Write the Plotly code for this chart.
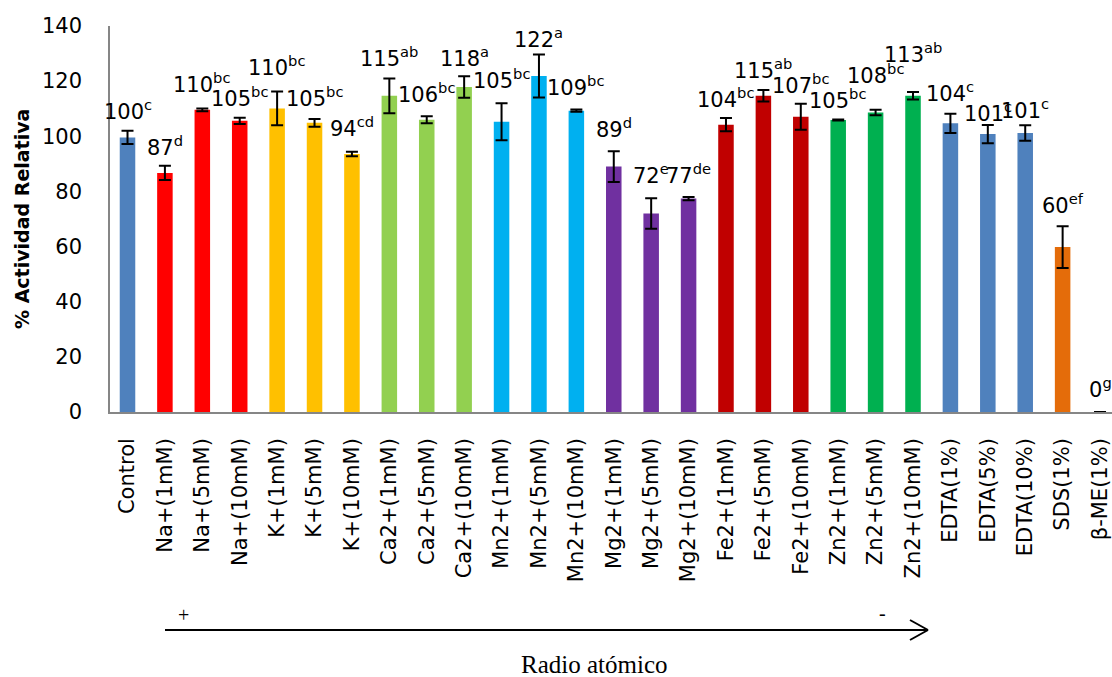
import plotly.graph_objects as go

categories = ["Control", "Na+(1mM)", "Na+(5mM)", "Na+(10mM)", "K+(1mM)", "K+(5mM)", "K+(10mM)",
              "Ca2+(1mM)", "Ca2+(5mM)", "Ca2+(10mM)", "Mn2+(1mM)", "Mn2+(5mM)", "Mn2+(10mM)",
              "Mg2+(1mM)", "Mg2+(5mM)", "Mg2+(10mM)", "Fe2+(1mM)", "Fe2+(5mM)", "Fe2+(10mM)",
              "Zn2+(1mM)", "Zn2+(5mM)", "Zn2+(10mM)", "EDTA(1%)", "EDTA(5%)", "EDTA(10%)",
              "SDS(1%)", "β-ME(1%)"]
values = [99.6, 86.7, 109.6, 105.6, 110.1, 104.9, 93.6,
          114.7, 106.0, 117.9, 105.3, 121.9, 109.3,
          89.0, 72.0, 77.4, 104.2, 114.7, 107.1,
          105.9, 108.6, 114.7, 104.7, 100.8, 101.2,
          59.8, 0.0]
errors = [2.4, 2.6, 0.5, 1.1, 6.1, 1.4, 0.8,
          6.3, 1.3, 3.9, 6.7, 7.8, 0.4,
          5.6, 5.5, 0.6, 2.4, 2.1, 4.7,
          0.2, 1.0, 1.4, 3.5, 3.3, 2.8,
          7.6, None]
label_values = ["100", "87", "110", "105", "110", "105", "94",
                "115", "106", "118", "105", "122", "109",
                "89", "72", "77", "104", "115", "107",
                "105", "108", "113", "104", "101", "101",
                "60", "0"]
label_letters = ["c", "d", "bc", "bc", "bc", "bc", "cd",
                 "ab", "bc", "a", "bc", "a", "bc",
                 "d", "e", "de", "bc", "ab", "bc",
                 "bc", "bc", "ab", "c", "c", "c",
                 "ef", "g"]
group_colors = {"Control": "#4F81BD", "Na": "#FF0000", "K": "#FFC000", "Ca": "#92D050",
                "Mn": "#00B0F0", "Mg": "#7030A0", "Fe": "#C00000", "Zn": "#00B050",
                "EDTA": "#4F81BD", "SDS": "#E46C0A", "β-ME": "#A6A6A6"}

# label vertical placement (data units) as positioned in the original chart
label_pos = [109.6, 96.6, 119.4, 114.3, 125.5, 114.3, 103.5,
             128.8, 115.8, 128.8, 120.8, 135.7, 118.3,
             103.1, 86.5, 86.5, 114.0, 124.5, 119.0,
             113.6, 122.6, 130.2, 116.1, 108.9, 109.9,
             75.3, 8.7]

def group_of(c):
    for k in group_colors:
        if c.startswith(k):
            return k
    return "Control"

colors = [group_colors[group_of(c)] for c in categories]

W, H = 1112, 677
X0, X1, YT, YB = 110, 1112, 26, 412

def px(x):
    return (x - X0) / (X1 - X0)

def py(y):
    return (YB - y) / (YB - YT)

fig = go.Figure()
fig.add_trace(go.Bar(
    x=categories, y=values, marker=dict(color=colors, line=dict(width=0)),
    width=0.415,
    error_y=dict(type="data", array=errors, visible=True, color="#000000",
                 thickness=2, width=6),
    showlegend=False, hoverinfo="x+y",
))

annotations = []
for c, v, l, yp in zip(categories, label_values, label_letters, label_pos):
    annotations.append(dict(
        x=c, y=yp, xref="x", yref="y", text=f"{v}<sup>{l}</sup>", showarrow=False,
        font=dict(family="DejaVu Sans", size=21, color="#000000"),
        xanchor="center", yanchor="middle",
    ))

annotations += [
    dict(x=px(22), y=0.5, xref="paper", yref="paper", text="<b>% Actividad Relativa</b>",
         textangle=-90, showarrow=False,
         font=dict(family="DejaVu Sans", size=19, color="#000"), xanchor="center", yanchor="middle"),
    dict(x=px(183), y=py(615), xref="paper", yref="paper", text="+", showarrow=False,
         font=dict(family="Liberation Serif", size=20, color="#000"), xanchor="center", yanchor="middle"),
    dict(x=px(882), y=py(613), xref="paper", yref="paper", text="-", showarrow=False,
         font=dict(family="Liberation Serif", size=20, color="#000"), xanchor="center", yanchor="middle"),
    dict(x=px(594), y=py(664), xref="paper", yref="paper", text="Radio atómico", showarrow=False,
         font=dict(family="Liberation Serif", size=25, color="#000"), xanchor="center", yanchor="middle"),
]

shapes = [
    dict(type="line", xref="paper", yref="paper", x0=px(165), x1=px(928), y0=py(630), y1=py(630),
         line=dict(color="#000", width=2)),
    dict(type="line", xref="paper", yref="paper", x0=px(910), x1=px(928), y0=py(620), y1=py(630),
         line=dict(color="#000", width=2)),
    dict(type="line", xref="paper", yref="paper", x0=px(910), x1=px(928), y0=py(640), y1=py(630),
         line=dict(color="#000", width=2)),
]

fig.update_layout(
    width=W, height=H,
    margin=dict(l=X0, r=W - X1, t=YT, b=H - YB, pad=0, autoexpand=False),
    plot_bgcolor="white", paper_bgcolor="white",
    font=dict(family="DejaVu Sans", size=20, color="#000"),
    xaxis=dict(
        type="category", range=[-0.468, 26.32], tickangle=-90, automargin=False,
        showline=True, linecolor="#868686", linewidth=1.5, showgrid=False,
        ticks="outside", ticklen=16, tickcolor="rgba(0,0,0,0)",
        tickfont=dict(family="DejaVu Sans", size=21, color="#000"),
    ),
    yaxis=dict(
        range=[0, 140], tickvals=[0, 20, 40, 60, 80, 100, 120, 140], automargin=False,
        showline=True, linecolor="#868686", linewidth=1.5, showgrid=False, zeroline=False,
        ticks="outside", ticklen=22, tickcolor="rgba(0,0,0,0)",
        tickfont=dict(family="DejaVu Sans", size=21, color="#000"),
    ),
    annotations=annotations, shapes=shapes, bargap=0.5,
)

fig.write_html("out.html", config={"displayModeBar": False},
               post_script="document.body.style.margin='0';document.body.style.overflow='hidden';")
